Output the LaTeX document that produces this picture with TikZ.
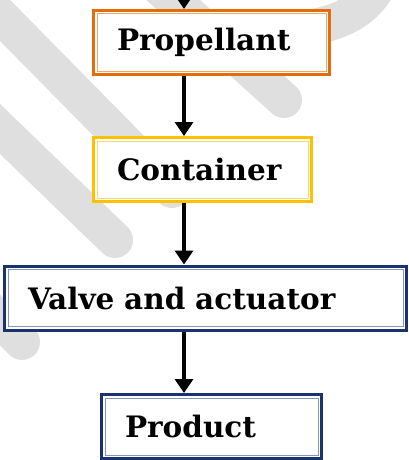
\documentclass[tikz,border=0pt]{standalone}
\usepackage{fontspec}
\setmainfont{DejaVu Serif}
\usepackage{xcolor}
\usetikzlibrary{arrows.meta}
\usetikzlibrary{positioning}
\usetikzlibrary{calc}

\definecolor{propOrange}{HTML}{E46C0A}
\definecolor{propLight}{HTML}{F2A66A}
\definecolor{contYellow}{HTML}{FFC000}
\definecolor{contLight}{HTML}{FFD966}
\definecolor{navyBlue}{HTML}{1B3270}
\definecolor{navyLight}{HTML}{8496B4}
\definecolor{markGray}{HTML}{DFDFDF}

\tikzset{
  flowbox/.style 2 args={rectangle, align=left, minimum height=57pt,
    inner xsep=20pt, inner ysep=0pt, outer sep=5pt,
    font=\fontsize{29.5}{33}\selectfont\bfseries,
    preaction={draw=#1, line width=10pt},
    preaction={draw=white, line width=4pt},
    fill=white, draw=#2, line width=1pt},
  flowarrow/.style={-{Triangle[width=18pt,length=14pt]}, line width=4pt},
  watermark/.style={draw=markGray, line width=36pt, line cap=round}
}

\begin{document}
\begin{tikzpicture}[x=1pt,y=-1pt]
\useasboundingbox (0,0) rectangle (409,460);
% watermark in the background
\draw[watermark] (-20,-5) -- (172,190);
\draw[watermark] (-30,100) -- (115,240);
\draw[watermark] (-30,290) -- (22,342);
\draw[watermark] (140,-30) -- (284,100);
\draw[watermark] (318,26) .. controls (355,18) and (375,0) .. (385,-30);
% boxes
\node[flowbox={propOrange}{propLight}, text width=189pt] (prop) at (211.5,42.5) {Propellant};
\node[flowbox={contYellow}{contLight}, text width=171pt] (cont) at (202.5,169.5) {Container};
\node[flowbox={navyBlue}{navyLight}, text width=355pt] (valve) at (205.5,298) {Valve and actuator};
\node[flowbox={navyBlue}{navyLight}, text width=173pt] (prod) at (211.5,426.5) {Product};
% arrows
\coordinate (top) at (184,-5);
\draw[flowarrow] (top) -- (prop.north -| top);
\draw[flowarrow] (prop.south -| top) -- (cont.north -| top);
\draw[flowarrow] (cont.south -| top) -- (valve.north -| top);
\draw[flowarrow] (valve.south -| top) -- (prod.north -| top);
\end{tikzpicture}
\end{document}
